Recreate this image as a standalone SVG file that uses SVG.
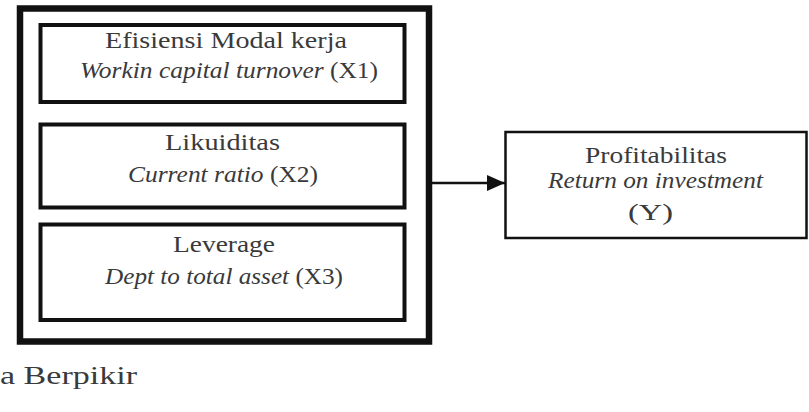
<svg xmlns="http://www.w3.org/2000/svg" width="809" height="412" viewBox="0 0 809 412">
<style>
text{font-family:"Liberation Serif","Times New Roman",serif;font-size:23px;fill:#3a3a3a;text-anchor:middle}
.i{font-style:italic}
.box{fill:#fff;stroke:#111}
</style>
<defs>
<marker id="ah" markerWidth="18" markerHeight="16" refX="18" refY="8" orient="auto" markerUnits="userSpaceOnUse">
<path d="M0,0 L18,8 L0,16 Z" fill="#111"/>
</marker>
</defs>
<rect width="809" height="412" fill="#fff"/>
<g id="outer"><rect class="box" x="20" y="8.5" width="409" height="333" stroke-width="6.5"/></g>
<g id="x1">
<rect class="box" x="40.5" y="25" width="364" height="77" stroke-width="4"/>
<text x="226" y="48" textLength="242" lengthAdjust="spacingAndGlyphs">Efisiensi Modal kerja</text>
<text x="229" y="78" textLength="298" lengthAdjust="spacingAndGlyphs"><tspan class="i">Workin capital turnover</tspan> (X1)</text>
</g>
<g id="x2">
<rect class="box" x="40.5" y="124.5" width="364" height="83" stroke-width="4"/>
<text x="222.5" y="150" textLength="115" lengthAdjust="spacingAndGlyphs">Likuiditas</text>
<text x="223" y="182" textLength="190" lengthAdjust="spacingAndGlyphs"><tspan class="i">Current ratio</tspan> (X2)</text>
</g>
<g id="x3">
<rect class="box" x="40.5" y="224.5" width="364" height="95.5" stroke-width="4"/>
<text x="224" y="252" textLength="102" lengthAdjust="spacingAndGlyphs">Leverage</text>
<text x="224" y="284" textLength="238" lengthAdjust="spacingAndGlyphs"><tspan class="i">Dept to total asset</tspan> (X3)</text>
</g>
<g id="y">
<rect class="box" x="505.5" y="132" width="301" height="106" stroke-width="2.5"/>
<text x="656" y="163" textLength="142" lengthAdjust="spacingAndGlyphs">Profitabilitas</text>
<text x="655.5" y="188" class="i" textLength="215" lengthAdjust="spacingAndGlyphs">Return on investment</text>
<text x="650.5" y="220" textLength="45" lengthAdjust="spacingAndGlyphs">(Y)</text>
</g>
<g id="connectors">
<line x1="432" y1="183" x2="505" y2="183" stroke="#111" stroke-width="2.5" marker-end="url(#ah)"/>
</g>
<text x="0" y="384" style="text-anchor:start;font-size:26px" textLength="137" lengthAdjust="spacingAndGlyphs">a Berpikir</text>
</svg>
